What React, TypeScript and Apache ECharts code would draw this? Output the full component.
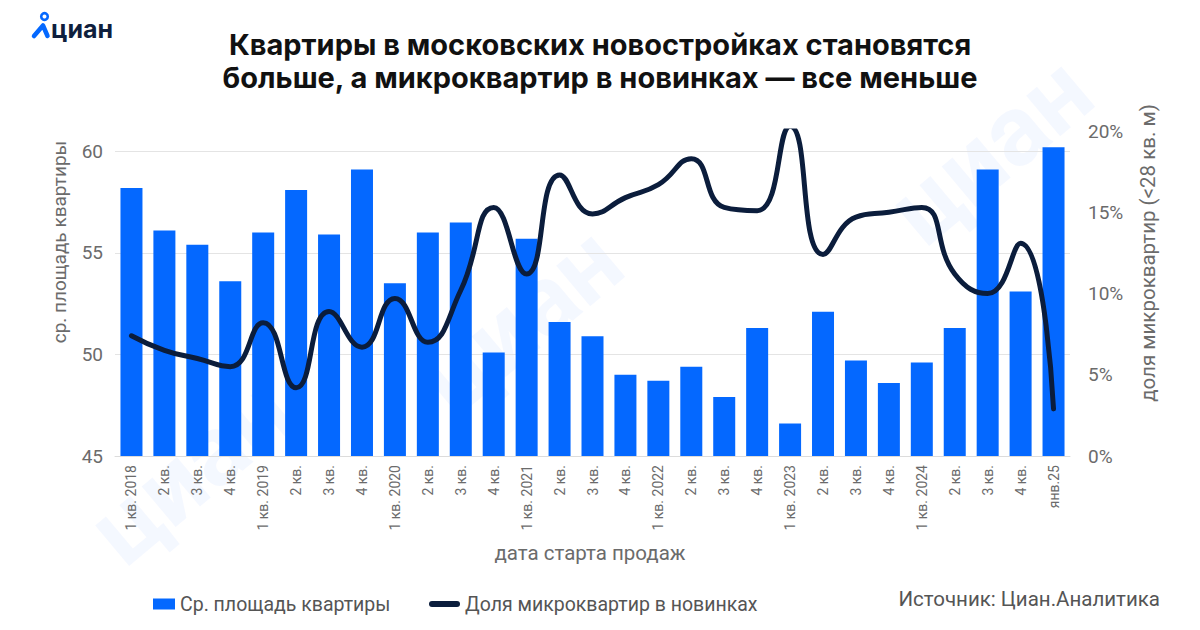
import React, { useEffect, useRef } from "react";
import * as echarts from "echarts";

const categories = [
  "1 кв. 2018", "2 кв.", "3 кв.", "4 кв.",
  "1 кв. 2019", "2 кв.", "3 кв.", "4 кв.",
  "1 кв. 2020", "2 кв.", "3 кв.", "4 кв.",
  "1 кв. 2021", "2 кв.", "3 кв.", "4 кв.",
  "1 кв. 2022", "2 кв.", "3 кв.", "4 кв.",
  "1 кв. 2023", "2 кв.", "3 кв.", "4 кв.",
  "1 кв. 2024", "2 кв.", "3 кв.", "4 кв.",
  "янв.25",
];
const avgArea = [
  58.2, 56.1, 55.4, 53.6, 56.0, 58.1, 55.9, 59.1, 53.5, 56.0, 56.5, 50.1, 55.7, 51.6, 50.9,
  49.0, 48.7, 49.4, 47.9, 51.3, 46.6, 52.1, 49.7, 48.6, 49.6, 51.3, 59.1, 53.1, 60.2,
];
const microShare = [
  7.4, 6.5, 6.0, 5.5, 8.2, 4.2, 8.9, 6.7, 9.7, 7.0, 10.2, 15.3, 11.2, 17.3, 14.9,
  15.9, 16.7, 18.3, 15.3, 15.1, 20.3, 12.4, 14.7, 15.0, 15.3, 11.2, 10.0, 13.1, 2.9,
];
const seriesNames = ["Ср. площадь квартиры", "Доля микроквартир в новинках"];
const titleLines = [
  "Квартиры в московских новостройках становятся",
  "больше, а микроквартир в новинках — все меньше",
];

const FONT = "Roboto, 'Noto Sans', sans-serif";
const TITLE_FONT = "Inter, Roboto, sans-serif";
const BLUE = "#0468ff";
const NAVY = "#0b1d3c";
const GRAY = "#6b6b6b";

export default function App() {
  const ref = useRef<HTMLDivElement>(null);
  useEffect(() => {
    if (!ref.current) return;
    const chart = echarts.init(ref.current, null, { renderer: "svg" });
    const wm = (x: number, y: number) => ({
      type: "text",
      x,
      y,
      rotation: (40 * Math.PI) / 180,
      z: -10,
      silent: true,
      style: {
        text: "циан",
        fontSize: 100,
        fontWeight: "bold",
        fontFamily: FONT,
        fill: "rgba(4,104,255,0.045)",
        align: "center",
        verticalAlign: "middle",
      },
    });
    chart.setOption({
      animation: false,
      backgroundColor: "#ffffff",
      textStyle: { fontFamily: FONT },
      title: {
        text: titleLines.join("\n"),
        left: "center",
        top: 23,
        textStyle: { fontSize: 29, fontWeight: "bold", color: "#111", lineHeight: 33, fontFamily: TITLE_FONT },
      },
      grid: { left: 115, right: 130, top: 131, bottom: 174 },
      legend: [
        {
          data: [seriesNames[0]],
          left: 148,
          top: 589,
          icon: "rect",
          itemWidth: 22,
          itemHeight: 11,
          textStyle: { fontSize: 19.5, color: "#555", fontFamily: FONT },
        },
        {
          data: [seriesNames[1]],
          left: 424,
          top: 589,
          icon: "path://M3,0 H28 A3,3 0 0 1 28,6 H3 A3,3 0 0 1 3,0 Z",
          itemWidth: 31,
          itemHeight: 6,
          textStyle: { fontSize: 19.5, color: "#555", fontFamily: FONT },
        },
      ],
      xAxis: {
        type: "category",
        data: categories,
        axisTick: { show: false },
        axisLine: { lineStyle: { color: "#dcdcdc" } },
        axisLabel: { rotate: 90, fontSize: 14, color: GRAY, margin: 9, interval: 0, fontFamily: FONT },
      },
      yAxis: [
        {
          type: "value",
          min: 45,
          max: 61,
          interval: 5,
          axisLine: { show: false },
          axisTick: { show: false },
          axisLabel: {
            fontSize: 19,
            color: GRAY,
            margin: 12,
            fontFamily: FONT,
            formatter: (v: number) => (v % 5 === 0 ? String(v) : ""),
          },
          splitLine: { show: true, showMaxLine: false, lineStyle: { color: "#e4e4e4" } },
        },
        {
          type: "value",
          min: 0,
          max: 20,
          interval: 5,
          axisLine: { show: false },
          axisTick: { show: false },
          axisLabel: { fontSize: 19, color: GRAY, margin: 18, formatter: "{value}%", fontFamily: FONT },
          splitLine: { show: false },
        },
      ],
      graphic: [
        wm(190, 470),
        wm(520, 320),
        wm(990, 150),
        {
          type: "circle",
          shape: { cx: 44.5, cy: 16.5, r: 3.3 },
          style: { fill: "none", stroke: BLUE, lineWidth: 2.6 },
        },
        {
          type: "polyline",
          shape: { points: [[34, 36], [43, 25.5], [47.5, 36]] },
          style: { stroke: BLUE, lineWidth: 4.5, fill: "none", lineCap: "round", lineJoin: "round" },
        },
        {
          type: "text",
          x: 51,
          y: 29,
          style: {
            text: "циан",
            fontSize: 25,
            fontWeight: "bold",
            fontFamily: "Inter, " + FONT,
            fill: "#0f1f3d",
            verticalAlign: "middle",
          },
        },
        {
          type: "text",
          x: 59,
          y: 242,
          rotation: Math.PI / 2,
          style: {
            text: "ср. площадь квартиры",
            fontSize: 19,
            fontFamily: FONT,
            fill: GRAY,
            align: "center",
            verticalAlign: "middle",
          },
        },
        {
          type: "text",
          x: 1148,
          y: 253,
          rotation: Math.PI / 2,
          style: {
            text: "доля микроквартир (<28 кв. м)",
            fontSize: 20.5,
            fontFamily: FONT,
            fill: GRAY,
            align: "center",
            verticalAlign: "middle",
          },
        },
        {
          type: "text",
          x: 590,
          y: 553,
          style: {
            text: "дата старта продаж",
            fontSize: 20.5,
            fontFamily: FONT,
            fill: GRAY,
            align: "center",
            verticalAlign: "middle",
          },
        },
        {
          type: "text",
          x: 1160,
          y: 599,
          style: {
            text: "Источник: Циан.Аналитика",
            fontSize: 20.5,
            fontFamily: FONT,
            fill: "#555",
            align: "right",
            verticalAlign: "middle",
          },
        },
      ],
      series: [
        {
          name: seriesNames[0],
          type: "bar",
          data: avgArea,
          yAxisIndex: 0,
          barWidth: 22,
          itemStyle: { color: BLUE },
          z: 2,
        },
        {
          name: seriesNames[1],
          type: "line",
          data: microShare,
          yAxisIndex: 1,
          smooth: 0.5,
          symbol: "none",
          lineStyle: { color: NAVY, width: 5, cap: "round", join: "round" },
          itemStyle: { color: NAVY },
          z: 3,
        },
      ],
    });
    return () => chart.dispose();
  }, []);
  return (
    <div
      ref={ref}
      style={{ position: "fixed", left: 0, top: 0, width: 1200, height: 630, background: "#fff" }}
    />
  );
}
